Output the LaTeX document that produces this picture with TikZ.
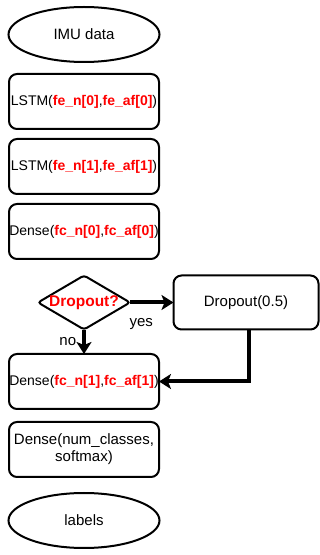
\documentclass[tikz,border=0pt]{standalone}
\usepackage{fontspec}
\setmainfont{Liberation Sans}
\usetikzlibrary{shapes.geometric,arrows.meta,positioning}

\begin{document}
\begin{tikzpicture}[
    x=1pt, y=1pt,
    layer/.style={rectangle, rounded corners=8pt, draw=black, line width=2pt, minimum width=150pt, minimum height=55pt, inner sep=0pt, outer sep=0pt, align=center, font=\fontsize{15}{17}\selectfont},
    redlayer/.style={layer, font=\fontsize{14}{17}\selectfont},
    terminal/.style={ellipse, draw=black, line width=2pt, minimum width=151pt, minimum height=55pt, inner sep=0pt, outer sep=0pt, font=\fontsize{15}{17}\selectfont},
    decision/.style={diamond, rounded corners=3pt, draw=black, line width=2pt, aspect=1.7, minimum width=92pt, minimum height=54pt, inner sep=-6pt, outer sep=0pt, text=red, font=\fontsize{15.5}{18}\selectfont\bfseries},
    arrow/.style={-{Stealth[length=12pt, width=15pt, inset=3pt]}, line width=4pt},
    lbl/.style={font=\fontsize{15}{17}\selectfont},
]
\useasboundingbox (0,0) rectangle (320,555);

% main column
\node[terminal] (imu) at (84,520.5) {IMU data};
\node[redlayer, below=12pt of imu] (lstm1) {LSTM(\textcolor{red}{\textbf{fe\_n[0]}},\textcolor{red}{\textbf{fe\_af[0]}})};
\node[redlayer, below=10pt of lstm1] (lstm2) {LSTM(\textcolor{red}{\textbf{fe\_n[1]}},\textcolor{red}{\textbf{fe\_af[1]}})};
\node[redlayer, below=10pt of lstm2] (dense1) {Dense(\textcolor{red}{\textbf{fc\_n[0]}},\textcolor{red}{\textbf{fc\_af[0]}})};
\node[decision, below=16.5pt of dense1] (dropq) {Dropout?};
\node[redlayer, below=24.5pt of dropq] (dense2) {Dense(\textcolor{red}{\textbf{fc\_n[1]}},\textcolor{red}{\textbf{fc\_af[1]}})};
\node[layer, below=13pt of dense2] (dense3) {Dense(num\_classes,\\softmax)};
\node[terminal, below=16pt of dense3] (labels) {labels};

% dropout branch
\node[layer, right=43.5pt of dropq, minimum width=145pt, minimum height=54pt] (dropout) {Dropout(0.5)};

% arrows
\draw[arrow] (dropq) -- node[lbl, pos=0.26, below=11pt] {yes} (dropout);
\draw[arrow] (dropq) -- node[lbl, left=2.5pt] {no} (dense2);
\draw[arrow] ([xshift=3pt]dropout.south) |- (dense2);

\end{tikzpicture}
\end{document}
